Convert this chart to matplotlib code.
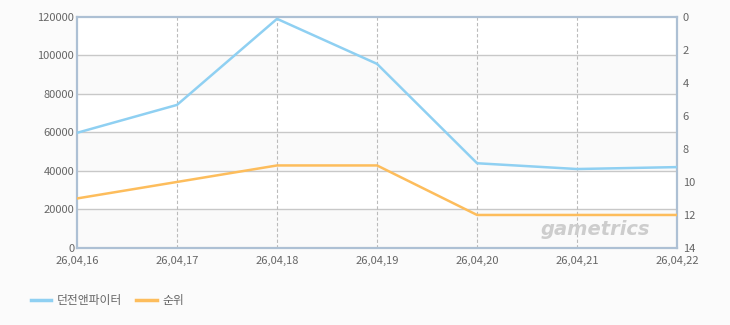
import matplotlib
matplotlib.use("Agg")
import matplotlib.pyplot as plt
from matplotlib.lines import Line2D

plt.rcParams['font.family'] = ['Noto Sans CJK KR', 'DejaVu Sans']

dates = ['26,04,16', '26,04,17', '26,04,18', '26,04,19', '26,04,20', '26,04,21', '26,04,22']
users = [59800, 74300, 119000, 95600, 44000, 41000, 42000]
rank = [11, 10, 9, 9, 12, 12, 12]
series_names = ['던전앤파이터', '순위']

blue = '#8fd0f2'
orange = '#fdbd5c'
spine_c = '#adc0d4'
text_c = '#666666'

fig = plt.figure(figsize=(7.3, 3.25), dpi=100, facecolor='#fbfbfb')
ax = fig.add_axes([0.1055, 0.237, 0.822, 0.711])
ax.set_facecolor('white')

x = list(range(len(dates)))
ax.set_xlim(0, len(dates) - 1)
ax.set_ylim(0, 120000)
yt = list(range(0, 120001, 20000))
for i in range(len(yt) - 1):
    if i % 2 == 0:
        ax.axhspan(yt[i], yt[i + 1], color='#fafafa', zorder=0, lw=0)
for v in yt[1:-1]:
    ax.axhline(v, color='#c8c8c8', lw=1, zorder=1)
for xi in x[1:-1]:
    ax.axvline(xi, color='#bbbbbb', lw=0.8, ls=(0, (3, 2)), zorder=1)

ax.plot(x, users, color=blue, lw=1.8, zorder=3)

ax.set_yticks(yt)
ax.set_yticklabels([str(v) for v in yt])
ax.set_xticks(x)
ax.set_xticklabels(dates)
ax.tick_params(axis='y', length=0, labelsize=8, colors=text_c, pad=2)
ax.tick_params(axis='x', length=0, labelsize=8, colors=text_c, pad=6)
for s in ax.spines.values():
    s.set_color(spine_c)
    s.set_linewidth(1.6)

ax2 = ax.twinx()
ax2.set_ylim(14, 0)
ax2.plot(x, rank, color=orange, lw=1.8, zorder=3)
ax2.set_yticks(range(0, 15, 2))
ax2.tick_params(length=0, labelsize=8, colors=text_c, pad=4)
for s in ax2.spines.values():
    s.set_visible(False)

ax.text(0.955, 0.04, 'gametrics', transform=ax.transAxes, ha='right', va='bottom',
        fontsize=14, style='italic', fontweight='bold', color='#cdcdcd',
        family='DejaVu Sans', zorder=2)

handles = [Line2D([], [], color=blue, lw=2.5), Line2D([], [], color=orange, lw=2.5)]
fig.legend(handles, series_names, loc='center left', bbox_to_anchor=(0.028, 0.075),
           ncol=2, frameon=False, fontsize=8.5, handlelength=1.7, handletextpad=0.5,
           columnspacing=1.2, labelcolor=text_c)

fig.savefig('out.png', dpi=100, facecolor=fig.get_facecolor())
